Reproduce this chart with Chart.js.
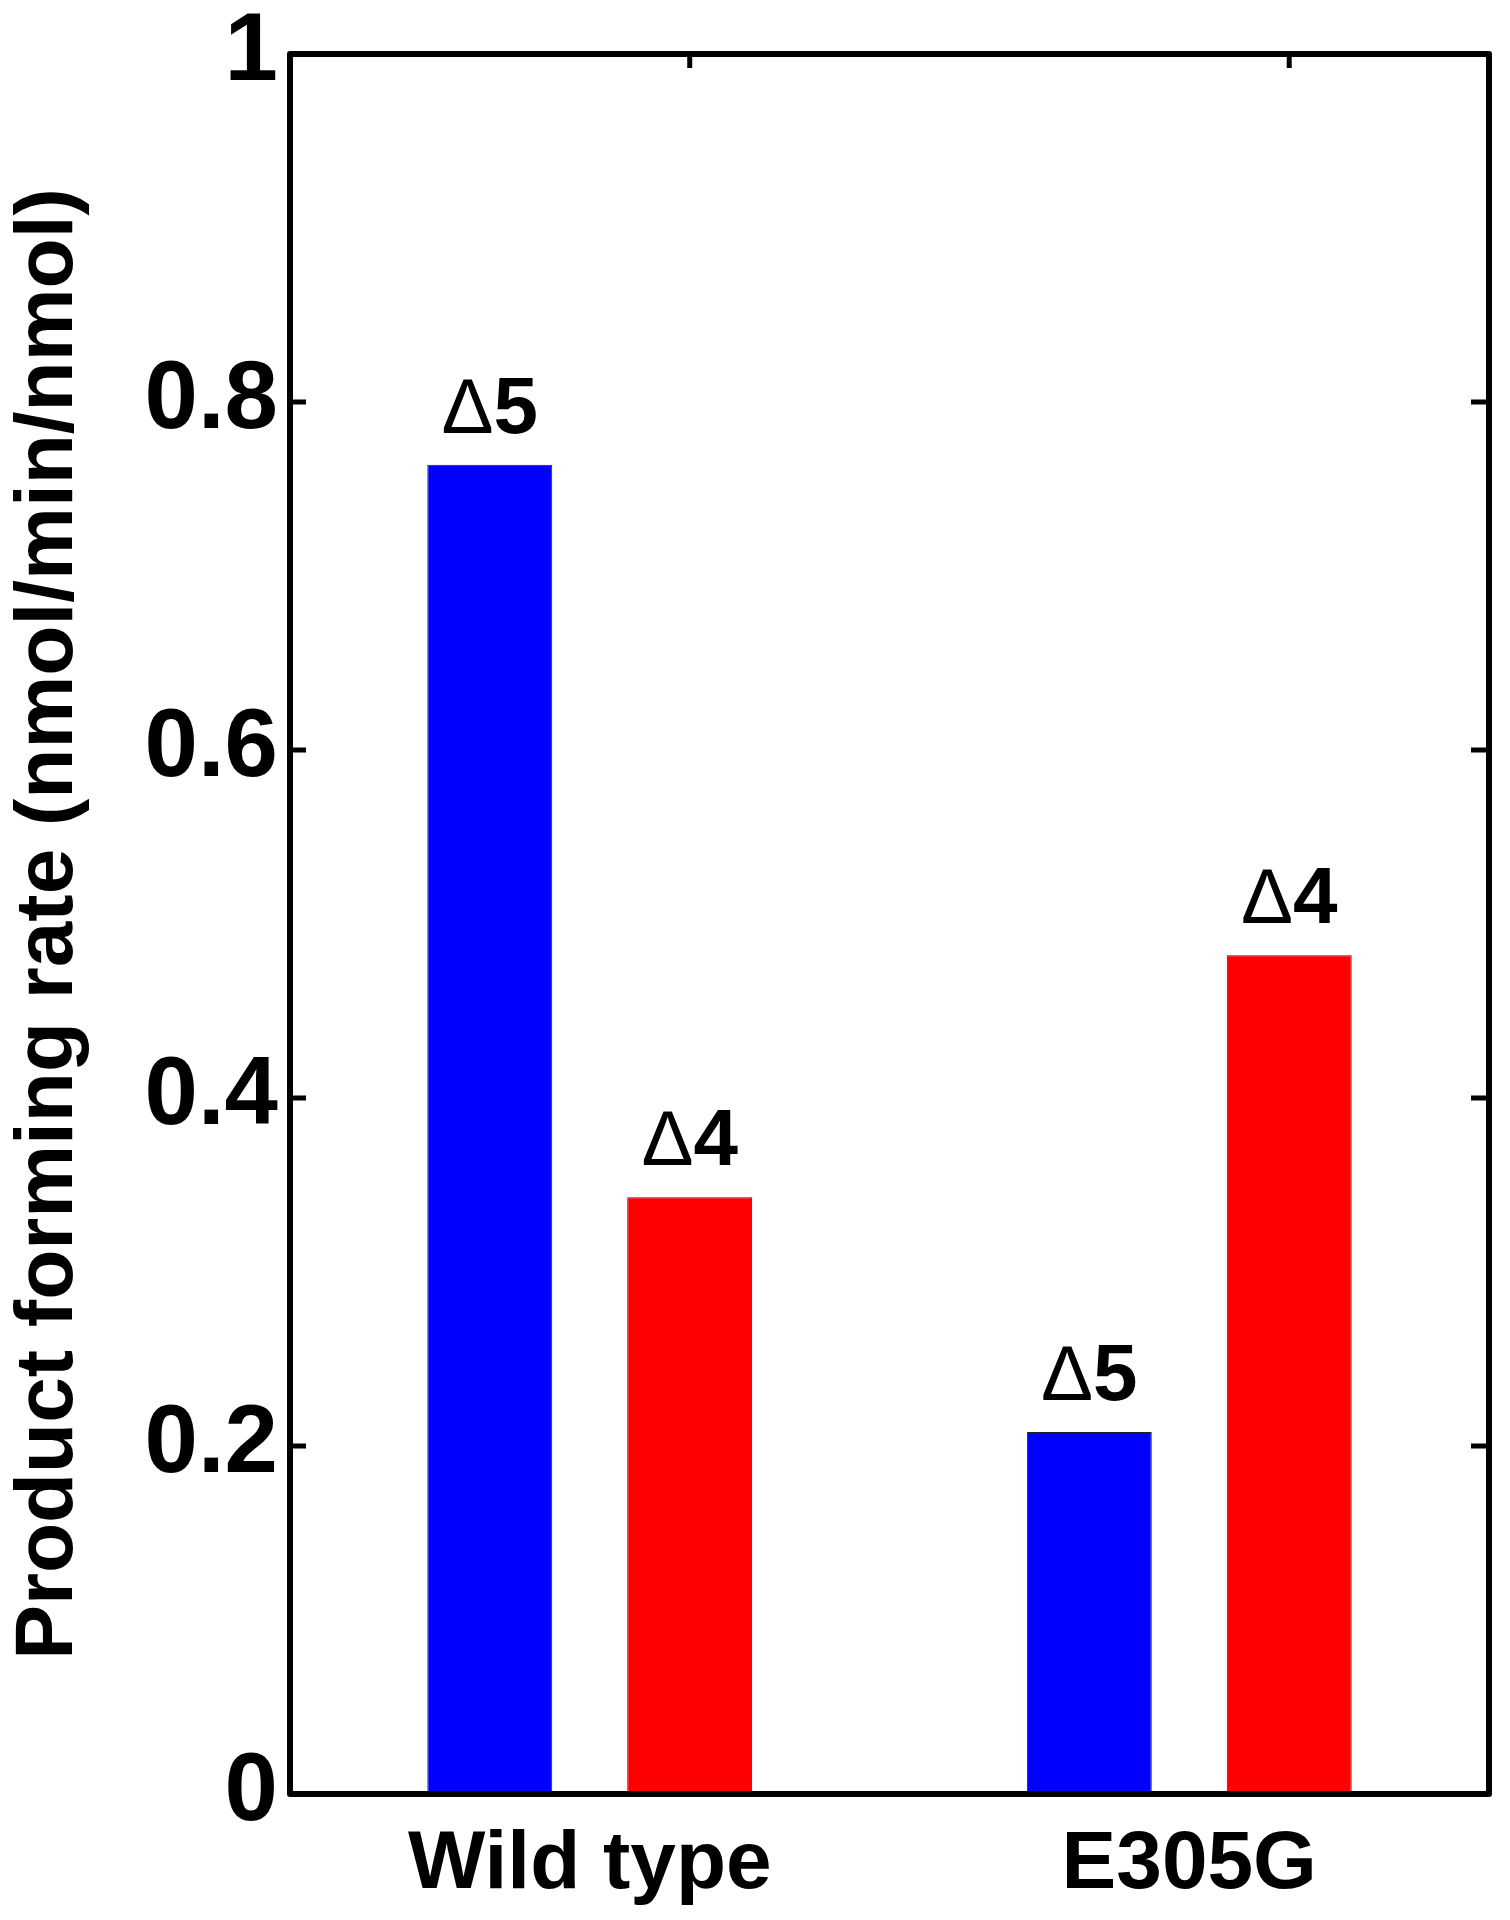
<!DOCTYPE html>
<html lang="en">
<head>
    <meta charset="UTF-8">
    <title>Product forming rate</title>
    <script src="https://cdn.jsdelivr.net/npm/chart.js"></script>
    <style>
        body { margin: 0; background: #fff; }
        .grafico { width: 1510px; height: 1920px; }
    </style>
</head>
<body>
<div class="grafico">
    <canvas id="myChart"></canvas>
</div>

<script>
// data
const categorias = ['Wild type', 'E305G'];
const rotulosSerie = ['Δ5', 'Δ4'];
const delta5 = [0.764, 0.208];
const delta4 = [0.343, 0.482];
const ticksY = [0, 0.2, 0.4, 0.6, 0.8, 1];

const fonte = "'Liberation Sans', Arial, Helvetica, sans-serif";

// box round the plot plus the little inward ticks
const moldura = {
    id: 'moldura',
    afterDatasetsDraw(chart) {
        const ctx = chart.ctx;
        const a = chart.chartArea;
        const y = chart.scales.y;
        ctx.save();
        ctx.strokeStyle = '#000';
        ctx.lineWidth = 5;
        ctx.lineCap = 'butt';
        ticksY.forEach(function (v) {
            const py = y.getPixelForValue(v);
            ctx.beginPath();
            ctx.moveTo(a.left, py); ctx.lineTo(a.left + 16, py);
            ctx.moveTo(a.right, py); ctx.lineTo(a.right - 18, py);
            ctx.stroke();
        });
        chart.getDatasetMeta(1).data.forEach(function (b) {
            ctx.beginPath();
            ctx.moveTo(b.x, a.top); ctx.lineTo(b.x, a.top + 14);
            ctx.stroke();
        });
        ctx.lineWidth = 6;
        ctx.lineJoin = 'round';
        ctx.strokeRect(a.left, a.top, a.right - a.left, a.bottom - a.top);
        ctx.restore();
    }
};

// "Δ5" / "Δ4" above each bar, thin delta and bold digit
const rotulos = {
    id: 'rotulos',
    afterDatasetsDraw(chart) {
        const ctx = chart.ctx;
        ctx.save();
        ctx.fillStyle = '#000';
        ctx.textBaseline = 'alphabetic';
        ctx.textAlign = 'left';
        chart.data.datasets.forEach(function (ds, i) {
            const delta = ds.label.charAt(0);
            const num = ds.label.slice(1);
            chart.getDatasetMeta(i).data.forEach(function (b) {
                ctx.font = '78px ' + fonte;
                const w1 = ctx.measureText(delta).width;
                ctx.font = 'bold 80px ' + fonte;
                const w2 = ctx.measureText(num).width;
                const x0 = b.x - (w1 + w2) / 2;
                const y0 = b.y - 32;
                ctx.font = '78px ' + fonte;
                ctx.fillText(delta, x0, y0);
                ctx.font = 'bold 80px ' + fonte;
                ctx.fillText(num, x0 + w1, y0);
            });
        });
        ctx.restore();
    }
};

const data = {
    labels: categorias,
    datasets: [
        { label: rotulosSerie[0], data: delta5, backgroundColor: '#0000ff', borderColor: '#222', borderWidth: 1 },
        { label: rotulosSerie[1], data: delta4, backgroundColor: '#ff0000', borderColor: '#222', borderWidth: 1 }
    ]
};

const config = {
    type: 'bar',
    data: data,
    plugins: [moldura, rotulos],
    options: {
        responsive: true,
        maintainAspectRatio: false,
        animation: false,
        categoryPercentage: 0.667,
        barPercentage: 0.625,
        layout: { padding: { top: 54, right: 21, left: 0, bottom: 0 } },
        plugins: {
            legend: { display: false },
            tooltip: { enabled: false }
        },
        scales: {
            x: {
                grid: { display: false, drawTicks: false },
                border: { display: false },
                ticks: {
                    color: '#000',
                    padding: 22,
                    font: { family: fonte, size: 82, weight: 'bold' }
                },
                afterFit: function (s) {
                    s.height = 126;
                    s.paddingLeft = 0;
                    s.paddingRight = 0;
                }
            },
            y: {
                min: 0,
                max: 1,
                afterBuildTicks: function (s) { s.ticks = ticksY.map(v => ({ value: v })); },
                grid: { display: false, drawTicks: false },
                border: { display: false },
                ticks: {
                    color: '#000',
                    padding: 12,
                    font: { family: fonte, size: 96, weight: 'bold' },
                    callback: function (v) { return String(v); }
                },
                title: {
                    display: true,
                    text: 'Product forming rate (nmol/min/nmol)',
                    color: '#000',
                    padding: 0,
                    font: { family: fonte, size: 82, weight: 'bold' }
                },
                afterFit: function (s) {
                    s.width = 290;
                    s.paddingTop = 0;
                    s.paddingBottom = 0;
                }
            }
        }
    }
};

const grafico = new Chart(document.getElementById('myChart'), config);
</script>
</body>
</html>
